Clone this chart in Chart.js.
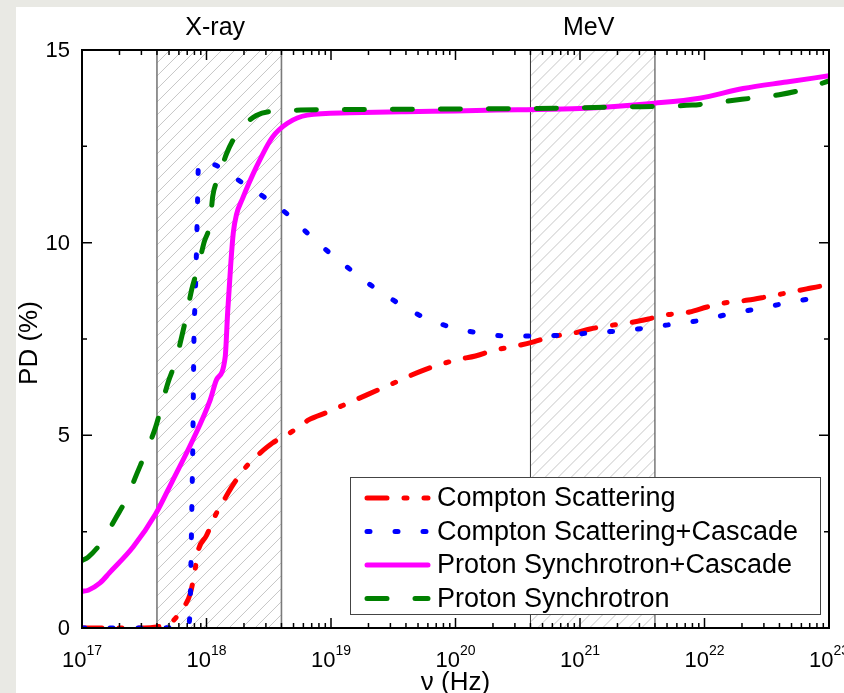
<!DOCTYPE html>
<html>
<head>
<meta charset="utf-8">
<script src="https://cdn.jsdelivr.net/npm/chart.js@4.4.0/dist/chart.umd.min.js"></script>
<style>
  html, body { margin: 0; padding: 0; background: #e9e9e4; }
  #wrap { position: absolute; left: 16px; top: 7px; width: 828px; height: 686px; background: #fff; }
  canvas { display: block; }
</style>
</head>
<body>
<div id="wrap"><canvas id="pdChart" width="828" height="686"></canvas></div>
<script>
// axis ticks (x as decades of nu in Hz)
const xExps = [17, 18, 19, 20, 21, 22, 23];
const yMajor = [0, 5, 10, 15];
const yMinor = [2.5, 7.5, 12.5];

// shaded energy bands
const bandNames = ['X-ray', 'MeV'];
const bandFrom = [4e17, 4e20];
const bandTo = [4e18, 4e21];

const seriesNames = ['Compton Scattering', 'Compton Scattering+Cascade', 'Proton Synchrotron+Cascade', 'Proton Synchrotron'];

// log10(nu) and PD (%)
const csLog = [17.0, 17.5, 17.6, 17.71, 17.8, 17.87, 17.91, 17.93, 18.0, 18.08, 18.15, 18.21, 18.33, 18.43, 18.53, 18.67, 18.82, 18.97, 19.14, 19.5, 19.75, 20.01, 20.16, 20.3, 20.49, 20.62, 20.76, 20.96, 21.08, 21.22, 21.43, 21.55, 21.68, 21.88, 22.02, 22.15, 22.35, 22.49, 22.62, 22.82, 22.95, 23.0];
const csPD  = [0, 0, 0.03, 0.13, 0.47, 0.9, 1.55, 1.97, 2.4, 2.98, 3.37, 3.7, 4.23, 4.54, 4.8, 5.06, 5.4, 5.6, 5.84, 6.35, 6.7, 6.96, 7.06, 7.2, 7.32, 7.42, 7.55, 7.66, 7.76, 7.84, 7.94, 8.02, 8.12, 8.2, 8.33, 8.43, 8.51, 8.59, 8.67, 8.8, 8.88, 8.9];

const cscLog = [17.0, 17.5, 17.85, 17.867, 17.876, 17.883, 17.89, 17.9, 17.908, 17.92, 17.927, 17.935, 17.96, 18.08, 18.29, 18.46, 18.65, 18.81, 18.98, 19.16, 19.34, 19.54, 19.74, 19.96, 20.18, 20.41, 20.63, 20.86, 21.09, 21.31, 21.54, 21.76, 21.98, 22.2, 22.42, 22.65, 22.87, 23.0];
const cscPD  = [0, 0, 0.02, 0.39, 1.83, 3.27, 4.75, 7.68, 8.43, 9.86, 10.9, 12.0, 12.12, 12.0, 11.55, 11.19, 10.74, 10.25, 9.76, 9.29, 8.85, 8.43, 8.07, 7.81, 7.66, 7.58, 7.58, 7.6, 7.66, 7.71, 7.79, 7.89, 7.99, 8.15, 8.28, 8.43, 8.56, 8.65];

const pscLog = [17.0, 17.05, 17.145, 17.22, 17.41, 17.59, 17.73, 17.89, 18.03, 18.08, 18.15, 18.17, 18.195, 18.215, 18.24, 18.29, 18.4, 18.53, 18.65, 18.81, 19.15, 19.6, 20.0, 20.5, 21.0, 21.6, 21.96, 22.31, 22.66, 23.0];
const pscPD  = [0.95, 0.98, 1.17, 1.43, 2.1, 2.95, 3.84, 4.88, 5.92, 6.44, 7.03, 8.2, 9.45, 10.25, 10.72, 11.15, 11.96, 12.74, 13.1, 13.31, 13.37, 13.4, 13.42, 13.45, 13.48, 13.62, 13.75, 14.0, 14.17, 14.33];

const psLog = [17.0, 17.05, 17.16, 17.27, 17.36, 17.44, 17.51, 17.59, 17.69, 17.75, 17.8, 17.84, 17.88, 17.93, 17.98, 18.03, 18.05, 18.1, 18.16, 18.25, 18.4, 18.6, 19.0, 19.5, 20.0, 20.5, 21.0, 21.3, 21.9, 22.3, 22.6, 22.8, 23.0];
const psPD  = [1.75, 1.84, 2.24, 2.85, 3.37, 4.0, 4.54, 5.2, 6.36, 6.9, 7.55, 8.12, 8.77, 9.34, 10.0, 10.54, 11.2, 11.7, 12.3, 12.85, 13.3, 13.42, 13.45, 13.46, 13.47, 13.48, 13.5, 13.52, 13.57, 13.72, 13.84, 13.98, 14.2];

const FONT = "'Liberation Sans', Arial, sans-serif";
const pts = (lg, pd) => lg.map((v, i) => ({ x: Math.pow(10, v), y: pd[i] }));

function line(label, data, color, dash, order) {
  return {
    label, data, borderColor: color, backgroundColor: color,
    borderWidth: 5, borderDash: dash, borderCapStyle: 'round', borderJoinStyle: 'round',
    pointRadius: 0, cubicInterpolationMode: 'monotone', fill: false, order
  };
}

const bandsPlugin = {
  id: 'bands',
  beforeDatasetsDraw(chart) {
    const { ctx, chartArea: a, scales: { x } } = chart;
    bandNames.forEach((name, i) => {
      const x0 = x.getPixelForValue(bandFrom[i]);
      const x1 = x.getPixelForValue(bandTo[i]);
      ctx.save();
      ctx.beginPath();
      ctx.rect(x0, a.top, x1 - x0, a.bottom - a.top);
      ctx.clip();
      ctx.strokeStyle = '#c6c6c6';
      ctx.lineWidth = 1;
      ctx.beginPath();
      for (let yy = a.top; yy < a.bottom + (x1 - x0); yy += 13) {
        ctx.moveTo(x0, yy);
        ctx.lineTo(x1, yy - (x1 - x0));
      }
      ctx.stroke();
      ctx.restore();

      ctx.save();
      ctx.strokeStyle = i === 0 ? '#7a7a7a' : '#333';
      ctx.lineWidth = i === 0 ? 1.6 : 1;
      ctx.beginPath();
      ctx.moveTo(x0, a.top); ctx.lineTo(x0, a.bottom);
      ctx.moveTo(x1, a.top); ctx.lineTo(x1, a.bottom);
      ctx.stroke();
      ctx.fillStyle = '#000';
      ctx.font = '25px ' + FONT;
      ctx.textAlign = 'center';
      ctx.textBaseline = 'alphabetic';
      ctx.fillText(name, (x0 + x1) / 2 - 4, a.top - 15);
      ctx.restore();
    });
  }
};

const framePlugin = {
  id: 'frame',
  afterDatasetsDraw(chart) {
    const { ctx, chartArea: a, scales: { x, y } } = chart;
    ctx.save();
    ctx.strokeStyle = '#000';
    ctx.lineWidth = 1.5;
    ctx.beginPath();
    xExps.forEach((e, i) => {
      const mults = i < xExps.length - 1 ? [1, 2, 3, 4, 5, 6, 7, 8, 9] : [1];
      mults.forEach(m => {
        const px = x.getPixelForValue(m * Math.pow(10, e));
        const len = m === 1 ? 10 : 5;
        ctx.moveTo(px, a.bottom); ctx.lineTo(px, a.bottom - len);
        ctx.moveTo(px, a.top); ctx.lineTo(px, a.top + len);
      });
    });
    yMajor.concat(yMinor).forEach(v => {
      const py = y.getPixelForValue(v);
      const len = yMajor.includes(v) ? 10 : 5;
      ctx.moveTo(a.left, py); ctx.lineTo(a.left + len, py);
      ctx.moveTo(a.right, py); ctx.lineTo(a.right - len, py);
    });
    ctx.stroke();
    ctx.lineWidth = 2;
    ctx.strokeRect(a.left, a.top, a.right - a.left, a.bottom - a.top);

    // tick labels
    ctx.fillStyle = '#000';
    ctx.font = '22px ' + FONT;
    ctx.textAlign = 'right';
    ctx.textBaseline = 'middle';
    yMajor.forEach(v => ctx.fillText(String(v), a.left - 12, y.getPixelForValue(v) + 1));

    ctx.textBaseline = 'alphabetic';
    ctx.textAlign = 'left';
    xExps.forEach(e => {
      const px = x.getPixelForValue(Math.pow(10, e));
      ctx.font = '22px ' + FONT;
      const w1 = ctx.measureText('10').width;
      ctx.font = '14px ' + FONT;
      const w2 = ctx.measureText(String(e)).width;
      const x0 = px - (w1 + w2) / 2;
      ctx.font = '22px ' + FONT;
      ctx.fillText('10', x0, a.bottom + 39);
      ctx.font = '14px ' + FONT;
      ctx.fillText(String(e), x0 + w1, a.bottom + 27);
    });

    // axis titles
    ctx.font = '26px ' + FONT;
    ctx.textAlign = 'center';
    ctx.fillText('\u03bd (Hz)', (a.left + a.right) / 2, a.bottom + 62);
    ctx.save();
    ctx.translate(a.left - 52, (a.top + a.bottom) / 2 + 4);
    ctx.rotate(-Math.PI / 2);
    ctx.textBaseline = 'middle';
    ctx.fillText('PD (%)', 0, 0);
    ctx.restore();
    ctx.restore();
  },
  afterDraw(chart) {
    const { ctx, chartArea: a } = chart;
    const bw = 470, bh = 137;
    const bx = a.right - 9 - bw, by = a.bottom - 14 - bh;
    ctx.save();
    ctx.fillStyle = '#fff';
    ctx.fillRect(bx, by, bw, bh);
    ctx.strokeStyle = '#444';
    ctx.lineWidth = 1;
    ctx.strokeRect(bx + 0.5, by + 0.5, bw, bh);
    const order = [0, 1, 2, 3];
    order.forEach((i, r) => {
      const ds = chart.data.datasets[i];
      const ry = by + 21 + r * 33.5;
      ctx.save();
      ctx.strokeStyle = ds.borderColor;
      ctx.lineWidth = ds.borderWidth;
      ctx.lineCap = 'round';
      ctx.setLineDash(ds.borderDash || []);
      ctx.beginPath();
      ctx.moveTo(bx + 17, ry);
      ctx.lineTo(bx + 78, ry);
      ctx.stroke();
      ctx.restore();
      ctx.fillStyle = '#000';
      ctx.font = '27px ' + FONT;
      ctx.textAlign = 'left';
      ctx.textBaseline = 'middle';
      ctx.fillText(seriesNames[i], bx + 87, ry + 1);
    });
    ctx.restore();
  }
};

const chart = new Chart(document.getElementById('pdChart').getContext('2d'), {
  type: 'line',
  data: {
    datasets: [
      line(seriesNames[0], pts(csLog, csPD), '#ff0000', [20, 17, 3, 17], 4),
      line(seriesNames[1], pts(cscLog, cscPD), '#0000ff', [3, 25], 3),
      line(seriesNames[2], pts(pscLog, pscPD), '#ff00ff', [], 2),
      line(seriesNames[3], pts(psLog, psPD), '#008000', [20, 28], 1)
    ]
  },
  options: {
    responsive: false,
    animation: false,
    layout: { padding: { left: 66, top: 43, right: 15, bottom: 65 } },
    plugins: { legend: { display: false }, tooltip: { enabled: false } },
    scales: {
      x: { type: 'logarithmic', min: 1e17, max: 1e23, display: false },
      y: { type: 'linear', min: 0, max: 15, display: false }
    }
  },
  plugins: [bandsPlugin, framePlugin]
});
window.pdChart = chart;
</script>
</body>
</html>
